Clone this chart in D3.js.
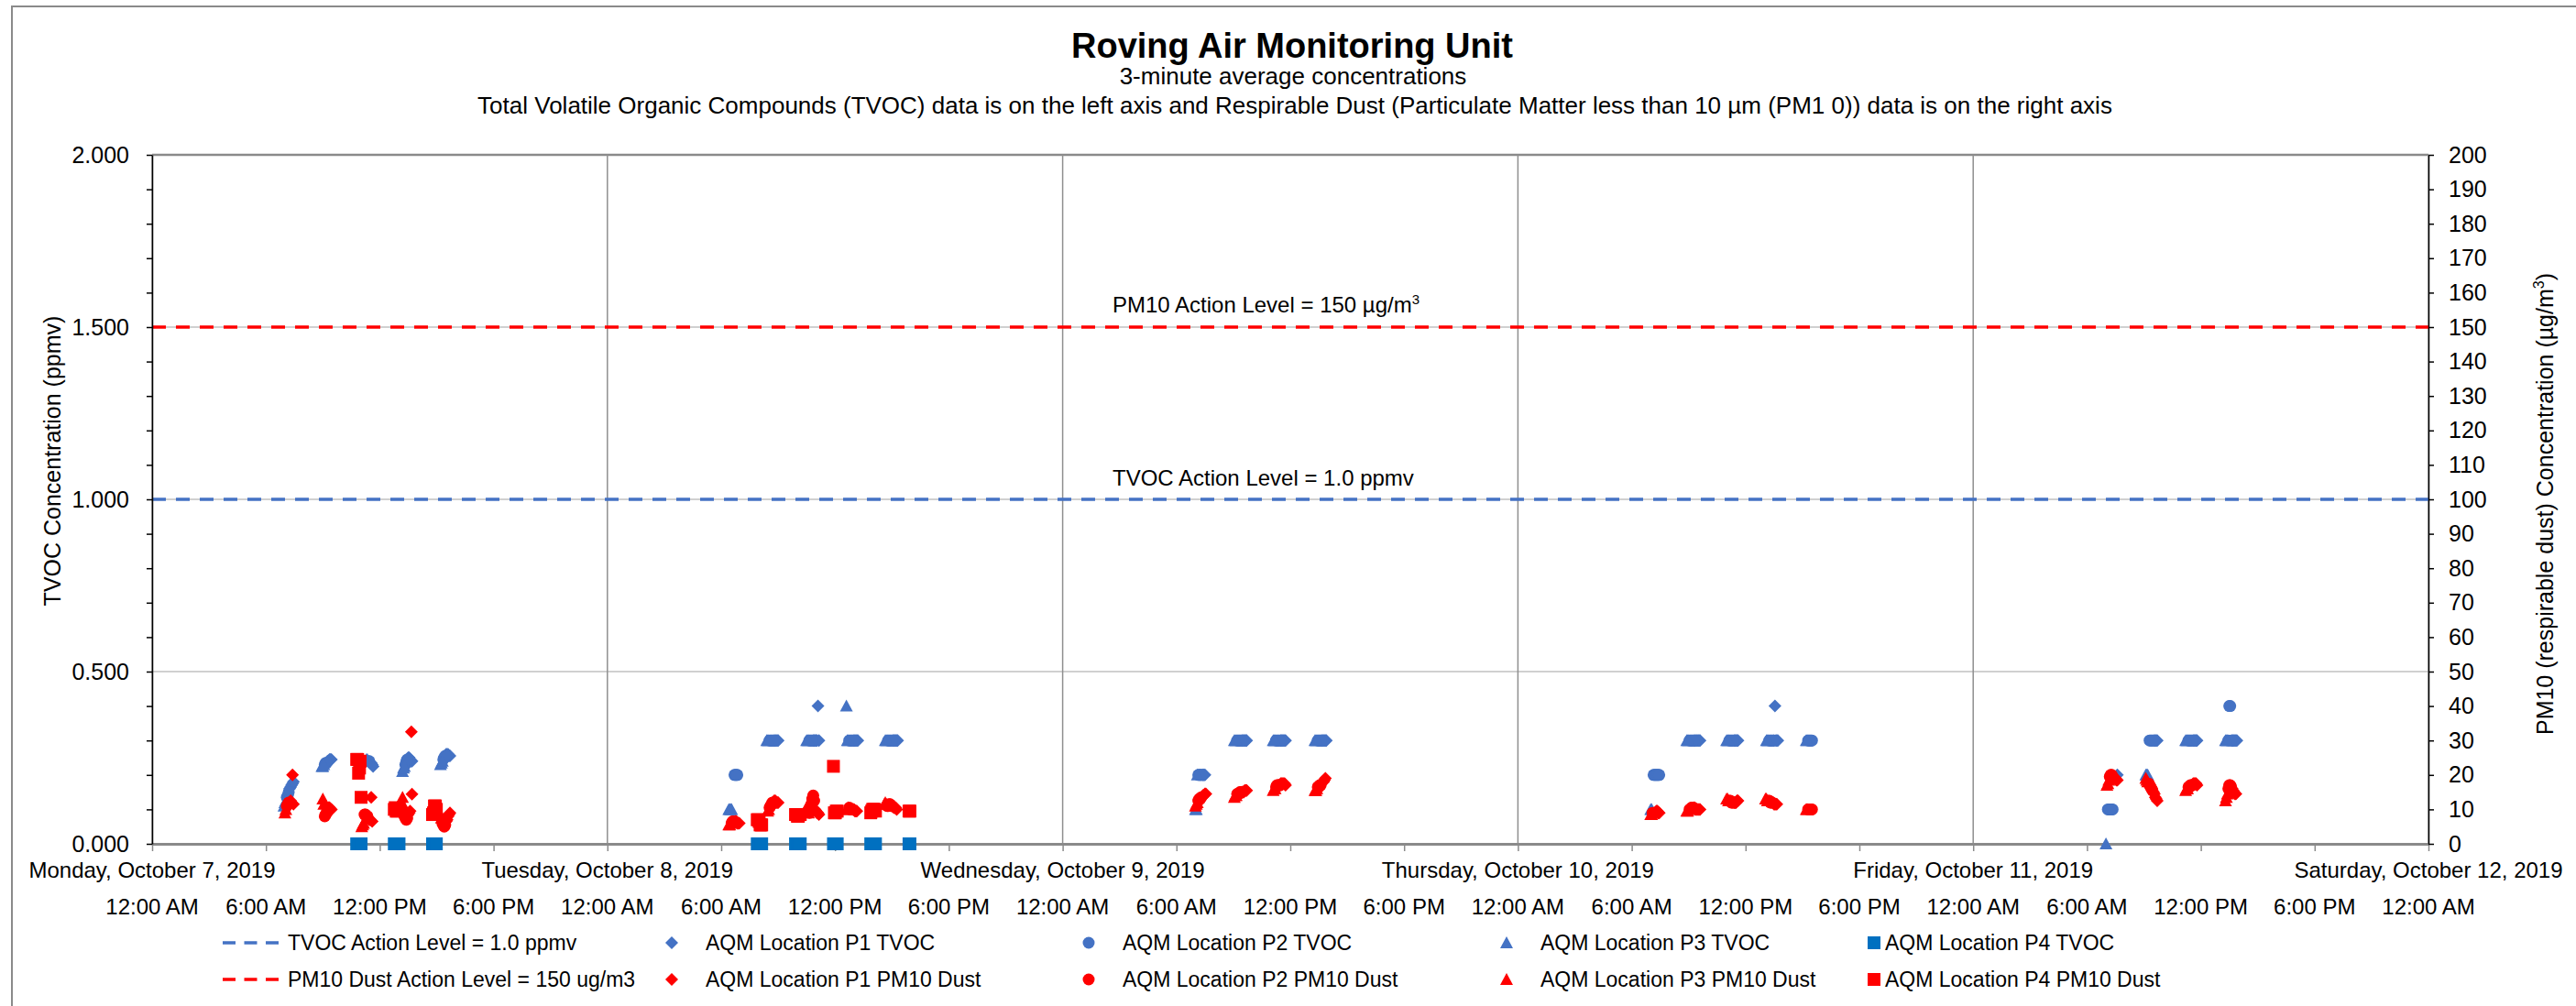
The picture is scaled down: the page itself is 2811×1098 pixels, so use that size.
<!DOCTYPE html>
<html><head><meta charset="utf-8">
<script src="https://cdn.jsdelivr.net/npm/d3@7"></script>
<style>
body{margin:0;background:#fff;}
svg text{font-family:"Liberation Sans",Arial,sans-serif;}
</style>
</head><body>
<svg id="c" width="2811" height="1098"></svg>
<script>
// ---------------- DATA ----------------
const dayLabels = ["Monday, October 7, 2019","Tuesday, October 8, 2019","Wednesday, October 9, 2019","Thursday, October 10, 2019","Friday, October 11, 2019","Saturday, October 12, 2019"];
const timeLabels = ["12:00 AM","6:00 AM","12:00 PM","6:00 PM"];
const leftTickLabels = ["0.000","0.500","1.000","1.500","2.000"];
const rightTickValues = [0,10,20,30,40,50,60,70,80,90,100,110,120,130,140,150,160,170,180,190,200];
const tvocActionLevel = 1.0;   // ppmv (left axis)
const pm10ActionLevel = 150;   // ug/m3 (right axis)

// TVOC (ppmv), left axis
const tvocP1 = [
 ["10-07 07:15",0.16],["10-07 07:18",0.165],["10-07 07:21",0.17],["10-07 07:24",0.175],["10-07 07:27",0.18],
 ["10-07 09:15",0.24],["10-07 09:18",0.24],["10-07 09:21",0.245],["10-07 09:24",0.245],["10-07 09:27",0.245],
 ["10-07 11:30",0.235],["10-07 11:33",0.235],["10-07 11:36",0.23],["10-07 11:39",0.225],
 ["10-07 13:30",0.25],["10-07 13:33",0.25],["10-07 13:36",0.245],["10-07 13:39",0.24],["10-07 13:42",0.24],
 ["10-07 15:30",0.26],["10-07 15:33",0.26],["10-07 15:36",0.26],["10-07 15:39",0.255],["10-07 15:42",0.255],
 ["10-08 08:48",0.3],["10-08 08:51",0.3],["10-08 08:54",0.3],["10-08 08:57",0.3],["10-08 09:00",0.3],
 ["10-08 10:51",0.3],["10-08 10:54",0.3],["10-08 10:57",0.3],["10-08 11:00",0.3],["10-08 11:03",0.3],["10-08 11:06",0.4],["10-08 11:09",0.3],
 ["10-08 13:00",0.3],["10-08 13:03",0.3],["10-08 13:06",0.3],["10-08 13:09",0.3],["10-08 13:12",0.3],
 ["10-08 15:03",0.3],["10-08 15:06",0.3],["10-08 15:09",0.3],["10-08 15:12",0.3],["10-08 15:15",0.3],["10-08 15:18",0.3],
 ["10-09 07:24",0.2],["10-09 07:27",0.2],["10-09 07:30",0.2],
 ["10-09 09:27",0.3],["10-09 09:30",0.3],["10-09 09:33",0.3],["10-09 09:36",0.3],["10-09 09:39",0.3],["10-09 09:42",0.3],
 ["10-09 11:30",0.3],["10-09 11:33",0.3],["10-09 11:36",0.3],["10-09 11:39",0.3],["10-09 11:42",0.3],["10-09 11:45",0.3],
 ["10-09 13:39",0.3],["10-09 13:42",0.3],["10-09 13:45",0.3],["10-09 13:48",0.3],["10-09 13:51",0.3],["10-09 13:54",0.3],
 ["10-10 09:18",0.3],["10-10 09:21",0.3],["10-10 09:24",0.3],["10-10 09:27",0.3],["10-10 09:30",0.3],["10-10 09:33",0.3],["10-10 09:36",0.3],
 ["10-10 11:24",0.3],["10-10 11:27",0.3],["10-10 11:30",0.3],["10-10 11:33",0.3],["10-10 11:36",0.3],
 ["10-10 13:30",0.3],["10-10 13:33",0.4],["10-10 13:36",0.3],["10-10 13:39",0.3],["10-10 13:42",0.3],
 ["10-11 07:36",0.2],
 ["10-11 09:33",0.3],["10-11 09:36",0.3],["10-11 09:39",0.3],["10-11 09:42",0.3],
 ["10-11 11:36",0.3],["10-11 11:39",0.3],["10-11 11:42",0.3],["10-11 11:45",0.3],["10-11 11:48",0.3],
 ["10-11 13:39",0.3],["10-11 13:42",0.3],["10-11 13:45",0.3],["10-11 13:48",0.3],["10-11 13:51",0.3],["10-11 13:54",0.3]
];
const tvocP2 = [
 ["10-07 07:06",0.135],["10-07 07:09",0.14],["10-07 07:12",0.15],
 ["10-07 09:06",0.23],["10-07 09:09",0.235],["10-07 09:12",0.235],
 ["10-07 11:24",0.24],["10-07 11:27",0.24],
 ["10-07 13:21",0.23],["10-07 13:24",0.24],["10-07 13:27",0.245],
 ["10-07 15:21",0.245],["10-07 15:24",0.25],["10-07 15:27",0.255],
 ["10-08 06:42",0.2],["10-08 06:45",0.2],["10-08 06:48",0.2],["10-08 06:51",0.2],
 ["10-08 08:33",0.3],["10-08 08:36",0.3],["10-08 08:39",0.3],["10-08 08:42",0.3],["10-08 08:45",0.3],
 ["10-08 10:39",0.3],["10-08 10:42",0.3],["10-08 10:45",0.3],["10-08 10:48",0.3],
 ["10-08 12:45",0.3],["10-08 12:48",0.3],["10-08 12:51",0.3],["10-08 12:54",0.3],["10-08 12:57",0.3],
 ["10-08 14:48",0.3],["10-08 14:51",0.3],["10-08 14:54",0.3],["10-08 14:57",0.3],["10-08 15:00",0.3],
 ["10-09 07:09",0.2],["10-09 07:12",0.2],["10-09 07:15",0.2],["10-09 07:18",0.2],["10-09 07:21",0.2],
 ["10-09 09:12",0.3],["10-09 09:15",0.3],["10-09 09:18",0.3],["10-09 09:21",0.3],["10-09 09:24",0.3],
 ["10-09 11:15",0.3],["10-09 11:18",0.3],["10-09 11:21",0.3],["10-09 11:24",0.3],["10-09 11:27",0.3],
 ["10-09 13:27",0.3],["10-09 13:30",0.3],["10-09 13:33",0.3],["10-09 13:36",0.3],
 ["10-10 07:09",0.2],["10-10 07:12",0.2],["10-10 07:15",0.2],["10-10 07:18",0.2],["10-10 07:21",0.2],["10-10 07:24",0.2],["10-10 07:27",0.2],
 ["10-10 09:03",0.3],["10-10 09:06",0.3],["10-10 09:09",0.3],["10-10 09:12",0.3],["10-10 09:15",0.3],
 ["10-10 11:09",0.3],["10-10 11:12",0.3],["10-10 11:15",0.3],["10-10 11:18",0.3],["10-10 11:21",0.3],
 ["10-10 13:15",0.3],["10-10 13:18",0.3],["10-10 13:21",0.3],["10-10 13:24",0.3],["10-10 13:27",0.3],
 ["10-10 15:18",0.3],["10-10 15:21",0.3],["10-10 15:24",0.3],["10-10 15:27",0.3],["10-10 15:30",0.3],
 ["10-11 07:06",0.1],["10-11 07:09",0.1],["10-11 07:12",0.1],["10-11 07:15",0.1],["10-11 07:18",0.1],["10-11 07:21",0.1],
 ["10-11 09:18",0.3],["10-11 09:21",0.3],["10-11 09:24",0.3],["10-11 09:27",0.3],["10-11 09:30",0.3],
 ["10-11 11:21",0.3],["10-11 11:24",0.3],["10-11 11:27",0.3],["10-11 11:30",0.3],["10-11 11:33",0.3],
 ["10-11 13:27",0.3],["10-11 13:30",0.4],["10-11 13:33",0.4],["10-11 13:36",0.3]
];
const tvocP3 = [
 ["10-07 06:57",0.11],["10-07 07:00",0.12],["10-07 07:03",0.125],
 ["10-07 08:57",0.225],["10-07 09:00",0.225],["10-07 09:03",0.23],
 ["10-07 11:18",0.245],["10-07 11:21",0.245],
 ["10-07 13:12",0.21],["10-07 13:15",0.22],["10-07 13:18",0.225],
 ["10-07 15:12",0.23],["10-07 15:15",0.235],["10-07 15:18",0.24],
 ["10-08 06:24",0.1],["10-08 06:27",0.1],["10-08 06:30",0.1],["10-08 06:33",0.1],
 ["10-08 08:24",0.3],["10-08 08:27",0.3],["10-08 08:30",0.3],
 ["10-08 10:30",0.3],["10-08 10:33",0.3],["10-08 10:36",0.3],
 ["10-08 12:36",0.4],["10-08 12:39",0.3],["10-08 12:42",0.3],
 ["10-08 14:39",0.3],["10-08 14:42",0.3],["10-08 14:45",0.3],
 ["10-09 07:00",0.1],["10-09 07:03",0.1],["10-09 07:06",0.2],
 ["10-09 09:03",0.3],["10-09 09:06",0.3],["10-09 09:09",0.3],
 ["10-09 11:06",0.3],["10-09 11:09",0.3],["10-09 11:12",0.3],
 ["10-09 13:18",0.3],["10-09 13:21",0.3],["10-09 13:24",0.3],
 ["10-10 07:00",0.1],["10-10 07:03",0.1],
 ["10-10 08:54",0.3],["10-10 08:57",0.3],["10-10 09:00",0.3],
 ["10-10 11:00",0.3],["10-10 11:03",0.3],["10-10 11:06",0.3],
 ["10-10 13:06",0.3],["10-10 13:09",0.3],["10-10 13:12",0.3],
 ["10-10 15:12",0.3],["10-10 15:15",0.3],
 ["10-11 07:00",0.0],
 ["10-11 09:06",0.2],["10-11 09:09",0.2],["10-11 09:12",0.2],
 ["10-11 11:12",0.3],["10-11 11:15",0.3],["10-11 11:18",0.3],
 ["10-11 13:18",0.3],["10-11 13:21",0.3],["10-11 13:24",0.3]
];
const tvocP4 = [
 ["10-07 10:47",0],["10-07 10:50",0],["10-07 10:53",0],["10-07 10:56",0],["10-07 10:59",0],["10-07 11:01",0],
 ["10-07 12:46",0],["10-07 12:49",0],["10-07 12:52",0],["10-07 12:55",0],["10-07 12:58",0],["10-07 13:01",0],
 ["10-07 14:47",0],["10-07 14:50",0],["10-07 14:53",0],["10-07 14:56",0],["10-07 14:59",0],
 ["10-08 07:54",0],["10-08 07:57",0],["10-08 08:00",0],["10-08 08:03",0],["10-08 08:06",0],["10-08 08:08",0],
 ["10-08 09:55",0],["10-08 09:58",0],["10-08 10:01",0],["10-08 10:04",0],["10-08 10:07",0],["10-08 10:10",0],
 ["10-08 11:55",0],["10-08 11:58",0],["10-08 12:01",0],["10-08 12:04",0],["10-08 12:07",0],
 ["10-08 13:53",0],["10-08 13:56",0],["10-08 13:59",0],["10-08 14:02",0],["10-08 14:05",0],["10-08 14:08",0],
 ["10-08 15:54",0],["10-08 15:57",0]
];
// PM10 dust (ug/m3), right axis
const pm10P1 = [
 ["10-07 07:15",12],["10-07 07:18",12.5],["10-07 07:21",12],["10-07 07:24",20],["10-07 07:27",11.5],
 ["10-07 09:15",10],["10-07 09:18",10.5],["10-07 09:21",10.5],["10-07 09:24",10],["10-07 09:27",10],
 ["10-07 11:24",7.5],["10-07 11:27",7],["10-07 11:30",7],["10-07 11:33",13.5],["10-07 11:36",6.5],
 ["10-07 13:30",8.5],["10-07 13:33",9],["10-07 13:36",9.5],["10-07 13:40",32.5],["10-07 13:42",14.4],
 ["10-07 15:30",6.5],["10-07 15:33",7],["10-07 15:36",8],["10-07 15:39",8.5],["10-07 15:42",9],
 ["10-08 06:45",6.5],["10-08 06:48",6.5],["10-08 06:51",6],["10-08 06:54",6],["10-08 06:57",6],
 ["10-08 08:48",12.5],["10-08 08:51",12.5],["10-08 08:54",12],["10-08 08:57",12],["10-08 09:00",12],
 ["10-08 10:57",10],["10-08 11:00",9.5],["10-08 11:03",9],["10-08 11:06",9],["10-08 11:09",8.5],
 ["10-08 12:57",10],["10-08 13:00",10],["10-08 13:03",9.5],["10-08 13:06",9.5],["10-08 13:09",9.5],
 ["10-08 15:00",11],["10-08 15:03",11],["10-08 15:06",10.5],["10-08 15:09",10.5],["10-08 15:12",10.5],["10-08 15:15",10],
 ["10-09 07:21",13.5],["10-09 07:24",14],["10-09 07:27",14],["10-09 07:30",14.5],["10-09 07:33",14.5],
 ["10-09 09:27",15],["10-09 09:30",15],["10-09 09:33",15],["10-09 09:36",15.5],["10-09 09:39",15.5],["10-09 09:42",15.5],
 ["10-09 11:30",17.5],["10-09 11:33",17.5],["10-09 11:36",17.5],["10-09 11:39",17.5],["10-09 11:42",17.5],["10-09 11:45",17],
 ["10-09 13:39",17.5],["10-09 13:42",18],["10-09 13:45",18],["10-09 13:48",18.5],["10-09 13:51",19],
 ["10-10 07:18",9.5],["10-10 07:21",9.5],["10-10 07:24",9],["10-10 07:27",9],
 ["10-10 09:18",10.5],["10-10 09:21",10],["10-10 09:24",10],["10-10 09:27",10],["10-10 09:30",10],["10-10 09:33",10],["10-10 09:36",10],
 ["10-10 11:24",12],["10-10 11:27",12],["10-10 11:30",12],["10-10 11:33",12.5],["10-10 11:36",12.5],
 ["10-10 13:27",12],["10-10 13:30",11.5],["10-10 13:33",11.5],["10-10 13:36",11.5],["10-10 13:39",11.5],
 ["10-11 07:24",19.5],["10-11 07:27",19],["10-11 07:30",19],["10-11 07:33",18.5],["10-11 07:36",18.5],
 ["10-11 09:30",15],["10-11 09:33",14.5],["10-11 09:36",13.5],["10-11 09:39",13],["10-11 09:42",12.5],
 ["10-11 11:36",17.5],["10-11 11:39",17.5],["10-11 11:42",17.5],["10-11 11:45",17.5],["10-11 11:48",17],
 ["10-11 13:39",16],["10-11 13:42",15.5],["10-11 13:45",15],["10-11 13:48",14.5],["10-11 13:51",14.5]
];
const pm10P2 = [
 ["10-07 07:06",11],["10-07 07:09",11.5],["10-07 07:12",12],
 ["10-07 09:06",8],["10-07 09:09",8.5],["10-07 09:12",9],
 ["10-07 11:12",8.5],["10-07 11:15",8.5],["10-07 11:18",8],["10-07 11:21",8],
 ["10-07 13:15",9],["10-07 13:18",8],["10-07 13:21",7.5],["10-07 13:24",7],["10-07 13:27",7.5],
 ["10-07 15:18",6],["10-07 15:21",5.5],["10-07 15:24",5],["10-07 15:27",5.5],
 ["10-08 06:33",6],["10-08 06:36",6.5],["10-08 06:39",6.5],
 ["10-08 08:33",10.5],["10-08 08:36",11],["10-08 08:39",11.5],["10-08 08:42",12],["10-08 08:45",12],
 ["10-08 10:39",9],["10-08 10:42",10],["10-08 10:45",11.5],["10-08 10:48",13],["10-08 10:51",14],["10-08 10:54",12.5],
 ["10-08 12:45",10.5],["10-08 12:48",10],["10-08 12:51",10],["10-08 12:54",10],
 ["10-08 14:45",11],["10-08 14:48",11],["10-08 14:51",11.5],["10-08 14:54",11.5],["10-08 14:57",11],
 ["10-09 07:09",12.5],["10-09 07:12",13],["10-09 07:15",13],["10-09 07:18",13.5],
 ["10-09 09:12",14.5],["10-09 09:15",14.5],["10-09 09:18",14.5],["10-09 09:21",15],["10-09 09:24",15],
 ["10-09 11:15",16.5],["10-09 11:18",17],["10-09 11:21",17],["10-09 11:24",17],["10-09 11:27",17],
 ["10-09 13:27",16.5],["10-09 13:30",16.5],["10-09 13:33",17],["10-09 13:36",17],
 ["10-10 07:06",9],["10-10 07:09",9],["10-10 07:12",9],["10-10 07:15",9],
 ["10-10 09:03",10],["10-10 09:06",10],["10-10 09:09",10.5],["10-10 09:12",10.5],["10-10 09:15",10.5],
 ["10-10 11:09",12.5],["10-10 11:12",12.5],["10-10 11:15",12],["10-10 11:18",12],["10-10 11:21",12],
 ["10-10 13:12",12.5],["10-10 13:15",12.5],["10-10 13:18",12],["10-10 13:21",12],["10-10 13:24",12],
 ["10-10 15:18",10],["10-10 15:21",10],["10-10 15:24",10],["10-10 15:27",10],["10-10 15:30",10],
 ["10-11 07:12",19.5],["10-11 07:15",20],["10-11 07:18",20],["10-11 07:21",19.5],
 ["10-11 09:15",17.5],["10-11 09:18",17],["10-11 09:21",16.5],["10-11 09:24",16],["10-11 09:27",15.5],
 ["10-11 11:21",16.5],["10-11 11:24",16.5],["10-11 11:27",17],["10-11 11:30",17],["10-11 11:33",17],
 ["10-11 13:27",16],["10-11 13:30",17],["10-11 13:33",17],["10-11 13:36",16.5]
];
const pm10P3 = [
 ["10-07 07:00",9],["10-07 07:03",10],
 ["10-07 09:00",13],["10-07 09:03",11.5],
 ["10-07 11:03",5],["10-07 11:06",5.5],["10-07 11:09",6],
 ["10-07 13:04",11],["10-07 13:07",11],["10-07 13:10",12],["10-07 13:12",13.5],
 ["10-07 15:12",8.5],["10-07 15:15",7.5],
 ["10-08 06:24",5.5],["10-08 06:27",5.5],["10-08 06:30",6],
 ["10-08 08:27",9.5],["10-08 08:30",10],
 ["10-08 10:27",10],["10-08 10:30",10.5],["10-08 10:33",9.5],["10-08 10:36",9],
 ["10-08 12:36",10],["10-08 12:39",10],["10-08 12:42",10.5],
 ["10-08 14:36",11.5],["10-08 14:39",12],["10-08 14:42",11.5],
 ["10-09 07:00",11],["10-09 07:03",11.5],["10-09 07:06",12],
 ["10-09 09:03",13.5],["10-09 09:06",14],["10-09 09:09",14],
 ["10-09 11:06",15.5],["10-09 11:09",16],["10-09 11:12",16],
 ["10-09 13:18",15.5],["10-09 13:21",15.5],["10-09 13:24",16],
 ["10-10 07:00",8.5],["10-10 07:03",8.5],
 ["10-10 08:54",9.5],["10-10 08:57",9.5],["10-10 09:00",10],
 ["10-10 11:00",13],["10-10 11:03",13],["10-10 11:06",12.5],
 ["10-10 13:03",13],["10-10 13:06",13],["10-10 13:09",12.5],
 ["10-10 15:12",10],["10-10 15:15",10],
 ["10-11 07:03",17],["10-11 07:06",17.5],["10-11 07:09",18.5],
 ["10-11 09:06",19],["10-11 09:09",18.5],["10-11 09:12",18],
 ["10-11 11:12",15.5],["10-11 11:15",16],["10-11 11:18",16],
 ["10-11 13:18",12.5],["10-11 13:21",13.5],["10-11 13:24",14.5]
];
const pm10P4 = [
 ["10-07 10:47",24.5],["10-07 10:50",24.5],["10-07 10:53",20.5],["10-07 10:56",22],["10-07 10:58",24],["10-07 11:01",13.5],
 ["10-07 12:46",10],["10-07 12:49",10.5],["10-07 12:52",9.5],["10-07 12:55",9.5],["10-07 12:58",10],["10-07 13:01",10],
 ["10-07 14:47",8.5],["10-07 14:50",9],["10-07 14:53",11],["10-07 14:56",11],["10-07 14:59",10],
 ["10-08 07:54",7],["10-08 07:57",7],["10-08 08:00",6.5],["10-08 08:03",5.5],["10-08 08:06",5.5],["10-08 08:08",5.5],
 ["10-08 09:55",8.5],["10-08 09:58",8.5],["10-08 10:01",8],["10-08 10:04",8],["10-08 10:07",8.5],["10-08 10:10",8.5],
 ["10-08 11:55",22.5],["10-08 11:58",9],["10-08 12:01",9],["10-08 12:04",9.5],["10-08 12:07",9.5],
 ["10-08 13:53",9],["10-08 13:56",9.5],["10-08 13:59",10],["10-08 14:02",10],["10-08 14:05",10],["10-08 14:08",9.5],
 ["10-08 15:54",9.5],["10-08 15:57",9.5]
];

// ---------------- LAYOUT ----------------
const X0 = 166, X1 = 2650, Y0 = 921, Y1 = 169;
const BLUE = "#4472C4", DBLUE = "#0070C0", RED = "#FF0000";
const FONT = '"Liberation Sans",Arial,sans-serif';
const svg = d3.select("#c");
const parse = d3.timeParse("%Y-%m-%d %H:%M");
const t = s => parse("2019-" + s);

const x = d3.scaleTime().domain([new Date(2019,9,7), new Date(2019,9,12)]).range([X0, X1]);
const yL = d3.scaleLinear().domain([0,2]).range([Y0, Y1]);
const yR = d3.scaleLinear().domain([0,200]).range([Y0, Y1]);

// outer frame
svg.append("path").attr("d","M13,1098V7H2811").attr("fill","none").attr("stroke","#8a8a8a").attr("stroke-width",2);

// horizontal gridlines
[0.5,1.0,1.5].forEach(v => svg.append("line").attr("x1",X0).attr("x2",X1).attr("y1",yL(v)).attr("y2",yL(v))
  .attr("stroke","#c0c0c0").attr("stroke-width",1.5));
svg.append("line").attr("x1",X0).attr("x2",X1).attr("y1",yL(2)).attr("y2",yL(2)).attr("stroke","#8a8a8a").attr("stroke-width",2.5);

// vertical day gridlines
const days = d3.timeDay.range(new Date(2019,9,7), new Date(2019,9,13));
days.forEach(d => svg.append("line").attr("x1",x(d)).attr("x2",x(d)).attr("y1",Y1).attr("y2",Y0)
  .attr("stroke","#8f8f8f").attr("stroke-width",1.5));

// bottom axis (gray, ticks every 6 h)
const gB = svg.append("g").attr("transform",`translate(0,${Y0})`)
  .call(d3.axisBottom(x).ticks(d3.timeHour.every(6)).tickSize(8).tickSizeOuter(0).tickFormat(""));
gB.select(".domain").attr("stroke","#8a8a8a").attr("stroke-width",3);
gB.selectAll(".tick line").attr("stroke","#8a8a8a").attr("stroke-width",1.5);

// action lines
svg.append("line").attr("x1",X0).attr("x2",X1).attr("y1",yL(tvocActionLevel)).attr("y2",yL(tvocActionLevel))
  .attr("stroke",BLUE).attr("stroke-width",3.5).attr("stroke-dasharray","15,11");
svg.append("line").attr("x1",X0).attr("x2",X1).attr("y1",yR(pm10ActionLevel)).attr("y2",yR(pm10ActionLevel))
  .attr("stroke",RED).attr("stroke-width",3.5).attr("stroke-dasharray","15,11");

const pmLbl = svg.append("text").attr("x",1214).attr("y",yR(pm10ActionLevel)-16).attr("font-size",24).attr("fill","#000");
pmLbl.append("tspan").text("PM10 Action Level = 150 µg/m");
pmLbl.append("tspan").attr("font-size",15).attr("dy",-9).text("3");
svg.append("text").attr("x",1214).attr("y",yL(tvocActionLevel)-15).attr("font-size",24).attr("fill","#000")
  .text("TVOC Action Level = 1.0 ppmv");

// left axis
const gL = svg.append("g").attr("transform",`translate(${X0},0)`)
  .call(d3.axisLeft(yL).tickValues(d3.range(0,21).map(i=>i/10)).tickSize(6).tickSizeOuter(0).tickPadding(19)
    .tickFormat(d => { const k = Math.round(d*10); return k%5===0 ? leftTickLabels[k/5] : ""; }));
gL.attr("font-size",25).attr("font-family",FONT);
gL.select(".domain").attr("stroke","#000").attr("stroke-width",1.5);
gL.selectAll(".tick line").attr("stroke","#000").attr("stroke-width",1.5);
gL.selectAll("text").attr("fill","#000");

// right axis
const gR = svg.append("g").attr("transform",`translate(${X1},0)`)
  .call(d3.axisRight(yR).tickValues(rightTickValues).tickSize(6).tickSizeOuter(0).tickPadding(16));
gR.attr("font-size",25).attr("font-family",FONT);
gR.select(".domain").attr("stroke","#000").attr("stroke-width",1.5);
gR.selectAll(".tick line").attr("stroke","#000").attr("stroke-width",1.5);
gR.selectAll("text").attr("fill","#000");

// x labels (two rows)
days.forEach((d,i) => svg.append("text").attr("x",x(d)).attr("y",958).attr("text-anchor","middle")
  .attr("font-size",24).attr("fill","#000").text(dayLabels[i]));
d3.timeHour.every(6).range(new Date(2019,9,7), new Date(2019,9,12,1)).forEach((d,i) =>
  svg.append("text").attr("x",x(d)).attr("y",998).attr("text-anchor","middle")
    .attr("font-size",24).attr("fill","#000").text(timeLabels[i%4]));

// titles
svg.append("text").attr("x",1410).attr("y",63).attr("text-anchor","middle").attr("font-size",38).attr("font-weight","bold")
  .attr("fill","#000").text("Roving Air Monitoring Unit");
svg.append("text").attr("x",1411).attr("y",92).attr("text-anchor","middle").attr("font-size",26).attr("fill","#000")
  .text("3-minute average concentrations");
svg.append("text").attr("x",1413).attr("y",124).attr("text-anchor","middle").attr("font-size",26).attr("fill","#000")
  .text("Total Volatile Organic Compounds (TVOC) data is on the left axis and Respirable Dust (Particulate Matter less than 10 µm (PM1 0)) data is on the right axis");

// axis titles
svg.append("text").attr("transform","translate(66,503) rotate(-90)").attr("text-anchor","middle").attr("font-size",25)
  .attr("fill","#000").text("TVOC Concentration (ppmv)");
const rt = svg.append("text").attr("transform","translate(2786,550) rotate(-90)").attr("text-anchor","middle").attr("font-size",25).attr("fill","#000");
rt.append("tspan").text("PM10 (respirable dust) Concentration (µg/m");
rt.append("tspan").attr("font-size",16).attr("dy",-10).text("3");
rt.append("tspan").attr("dy",10).text(")");

// markers
const shapes = {
  diamond: "M0,-7L7,0L0,7L-7,0Z",
  triangle: "M0,-7L7,6L-7,6Z",
  square: "M-7,-7H7V7H-7Z",
  circle: d3.symbol(d3.symbolCircle, Math.PI*6.5*6.5)()
};
const series = [
  {name:"AQM Location P1 TVOC", data:tvocP1, y:yL, shape:"diamond", color:BLUE},
  {name:"AQM Location P2 TVOC", data:tvocP2, y:yL, shape:"circle", color:BLUE},
  {name:"AQM Location P3 TVOC", data:tvocP3, y:yL, shape:"triangle", color:BLUE},
  {name:"AQM Location P4 TVOC", data:tvocP4, y:yL, shape:"square", color:DBLUE},
  {name:"AQM Location P1 PM10 Dust", data:pm10P1, y:yR, shape:"diamond", color:RED},
  {name:"AQM Location P2 PM10 Dust", data:pm10P2, y:yR, shape:"circle", color:RED},
  {name:"AQM Location P3 PM10 Dust", data:pm10P3, y:yR, shape:"triangle", color:RED},
  {name:"AQM Location P4 PM10 Dust", data:pm10P4, y:yR, shape:"square", color:RED}
];
series.forEach(s => {
  svg.append("g").selectAll("path").data(s.data).join("path")
    .attr("d", shapes[s.shape])
    .attr("transform", d => `translate(${x(t(d[0]))},${s.y(d[1])})`)
    .attr("fill", s.color);
});

// legend
const rows = [1029, 1069];
const legendItems = [
  {row:0, kind:"line", color:BLUE, sx:243, tx:314, label:"TVOC Action Level = 1.0 ppmv"},
  {row:1, kind:"line", color:RED, sx:243, tx:314, label:"PM10 Dust Action Level = 150 ug/m3"},
  {row:0, kind:"diamond", color:BLUE, sx:733, tx:770, label:series[0].name},
  {row:1, kind:"diamond", color:RED, sx:733, tx:770, label:series[4].name},
  {row:0, kind:"circle", color:BLUE, sx:1188, tx:1225, label:series[1].name},
  {row:1, kind:"circle", color:RED, sx:1188, tx:1225, label:series[5].name},
  {row:0, kind:"triangle", color:BLUE, sx:1644, tx:1681, label:series[2].name},
  {row:1, kind:"triangle", color:RED, sx:1644, tx:1681, label:series[6].name},
  {row:0, kind:"square", color:DBLUE, sx:2045, tx:2057, label:series[3].name},
  {row:1, kind:"square", color:RED, sx:2045, tx:2057, label:series[7].name}
];
legendItems.forEach(it => {
  const cy = rows[it.row];
  if (it.kind === "line") {
    svg.append("line").attr("x1",it.sx).attr("x2",it.sx+61).attr("y1",cy).attr("y2",cy)
      .attr("stroke",it.color).attr("stroke-width",3.5).attr("stroke-dasharray","14,9.5");
  } else {
    svg.append("path").attr("d",shapes[it.kind]).attr("transform",`translate(${it.sx},${cy})`).attr("fill",it.color);
  }
  svg.append("text").attr("x",it.tx).attr("y",cy+8).attr("font-size",23).attr("fill","#000").text(it.label);
});
</script>
</body></html>
